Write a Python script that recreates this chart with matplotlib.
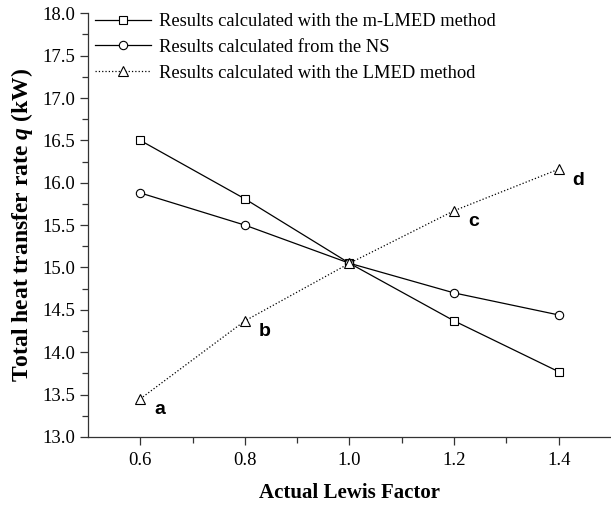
import matplotlib
matplotlib.use("Agg")
import matplotlib.pyplot as plt
from matplotlib.ticker import MultipleLocator

lewis = [0.6, 0.8, 1.0, 1.2, 1.4]
q_mlmed = [16.50, 15.81, 15.05, 14.37, 13.77]
q_ns = [15.88, 15.50, 15.05, 14.70, 14.44]
q_lmed = [13.45, 14.37, 15.05, 15.67, 16.16]
point_labels = ["a", "b", "c", "d"]
label_x = [0.6, 0.8, 1.2, 1.4]
label_y = [13.45, 14.37, 15.67, 16.16]

plt.rcParams['font.family'] = ['Liberation Serif', 'DejaVu Serif']
plt.rcParams['mathtext.fontset'] = 'custom'
plt.rcParams['mathtext.it'] = 'Liberation Serif:italic:bold'
plt.rcParams['mathtext.rm'] = 'Liberation Serif:bold'

fig = plt.figure(figsize=(6.11, 5.05), dpi=100)
ax = fig.add_axes([0.1440, 0.1347, 0.856, 0.839])

base = dict(markerfacecolor='white', markeredgecolor='black',
            markeredgewidth=0.8, color='black', linewidth=0.9)
ax.plot(lewis, q_mlmed, marker='s', linestyle='-', markersize=5.5,
        label='Results calculated with the m-LMED method', **base)
ax.plot(lewis, q_ns, marker='o', linestyle='-', markersize=6,
        label='Results calculated from the NS', **base)
ax.plot(lewis, q_lmed, marker='^', linestyle=':', markersize=6.5,
        label='Results calculated with the LMED method', **base)

for t, x, y in zip(point_labels, label_x, label_y):
    ax.annotate(t, (x, y), xytext=(10, -8), textcoords='offset points',
                fontsize=14, fontweight='bold', family='Liberation Sans',
                ha='left', va='center')

ax.set_xlim(0.5, 1.5)
ax.set_ylim(13.0, 18.0)
ax.yaxis.set_major_locator(MultipleLocator(0.5))
ax.yaxis.set_minor_locator(MultipleLocator(0.25))
ax.set_xticks([0.6, 0.8, 1.0, 1.2, 1.4])
ax.set_xticklabels(['0.6', '0.8', '1.0', '1.2', '1.4'])
ax.set_xticks([0.7, 0.9, 1.1, 1.3], minor=True)

for s in ['top', 'right']:
    ax.spines[s].set_visible(False)
for s in ['left', 'bottom']:
    ax.spines[s].set_linewidth(0.9)
    ax.spines[s].set_color('#333333')

ax.tick_params(axis='both', which='major', direction='out', length=6,
               width=0.9, labelsize=13.5, colors='#333333', labelcolor='black')
ax.tick_params(axis='both', which='minor', direction='out', length=4,
               width=0.9, colors='#333333')
ax.tick_params(axis='x', which='major', pad=5)

ax.set_xlabel('Actual Lewis Factor', fontsize=15, fontweight='bold', labelpad=10)
ax.set_ylabel(r'Total heat transfer rate $q$ (kW)', fontsize=17,
              fontweight='bold', labelpad=5)

leg = ax.legend(loc='upper left', frameon=False, fontsize=13.3, numpoints=1,
                handlelength=3.0, handletextpad=0.45, labelspacing=0.48,
                borderaxespad=0.0, bbox_to_anchor=(0.0, 1.018))

fig.savefig('out.png', dpi=100)
